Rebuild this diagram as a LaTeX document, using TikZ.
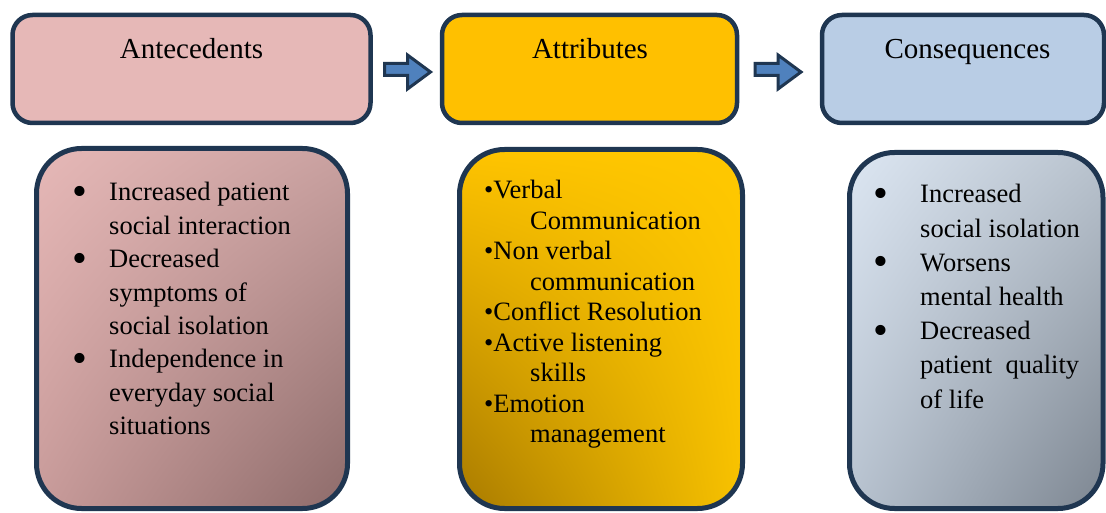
\documentclass[tikz,border=0pt]{standalone}
\usepackage{fontspec}
\usepackage{graphicx}
\setmainfont{Liberation Serif}
\usetikzlibrary{shadings}
\definecolor{navy}{HTML}{1F3651}
\definecolor{arrowfill}{HTML}{4F81BD}
\definecolor{anteTop}{HTML}{E6B8B7}
\definecolor{attrTop}{HTML}{FFC000}
\definecolor{consTop}{HTML}{B9CDE5}
\definecolor{anteUL}{HTML}{E6B8B7}
\definecolor{anteUR}{HTML}{C9A1A0}
\definecolor{anteLL}{HTML}{C89B9A}
\definecolor{anteLR}{HTML}{8D6B6A}
\definecolor{attrUL}{HTML}{FFC400}
\definecolor{attrUR}{HTML}{FFC800}
\definecolor{attrLL}{HTML}{A87A00}
\definecolor{attrLR}{HTML}{F8C200}
\definecolor{consUL}{HTML}{DCE6F2}
\definecolor{consUR}{HTML}{B9C3CE}
\definecolor{consLL}{HTML}{B7C2CF}
\definecolor{consLR}{HTML}{7D8691}
\newcommand{\bigbul}{\raisebox{-4.5pt}{\scalebox{1.6}{\textbullet}}}
\tikzset{
  headbox/.style={draw=navy, line width=4.5pt, rounded corners=20pt, minimum height=108pt, inner sep=0pt, outer sep=0pt},
  listbox/.style={draw=navy, line width=5pt, rounded corners=45pt, inner sep=0pt, outer sep=0pt},
  titletext/.style={anchor=base, inner sep=0pt, font=\fontsize{29}{34}\selectfont},
  listtext/.style={anchor=base west, inner sep=0pt},
  blockarrow/.pic={
    \draw[draw=navy, fill=arrowfill, line width=3pt, miter limit=10]
      (1.5,-6) -- (24.5,-6) -- (24.5,-14.5) -- (47.5,2.5) -- (24.5,19.5) -- (24.5,6) -- (1.5,6) -- cycle;
  }
}
\begin{document}
\begin{tikzpicture}[x=1pt,y=-1pt]
\path[use as bounding box, clip] (0,0) rectangle (1106,513);

% heading boxes
\node[headbox, fill=anteTop, minimum width=358pt] (anteHead) at (191.5,69) {};
\node[headbox, fill=attrTop, minimum width=295pt] (attrHead) at (589.5,69) {};
\node[headbox, fill=consTop, minimum width=282pt] (consHead) at (963,69) {};
\node[titletext] (anteTitle) at (191.5,59) {Antecedents};
\node[titletext] (attrTitle) at (590,59) {Attributes};
\node[titletext] (consTitle) at (967.5,59) {Consequences};

% block arrows
\pic at (383,69.5) {blockarrow};
\pic at (753.5,69.5) {blockarrow};

% list boxes
\node[listbox, minimum width=311pt, minimum height=360pt,
  upper left=anteUL, upper right=anteUR, lower left=anteLL, lower right=anteLR] (anteList) at (192,328.5) {};
\node[listbox, minimum width=283pt, minimum height=359pt,
  upper left=attrUL, upper right=attrUR, lower left=attrLL, lower right=attrLR] (attrList) at (601,329) {};
\node[listbox, minimum width=253.5pt, minimum height=356pt,
  upper left=consUL, upper right=consUR, lower left=consLL, lower right=consLR] (consList) at (976.25,330.5) {};

% list texts
\node[listtext, font=\fontsize{26.5}{33.4}\selectfont] (anteText) at (72,201) {%
\begin{tabular}[t]{@{}l@{}l@{}}
\makebox[37pt][l]{\bigbul} & Increased patient\\
 & social interaction\\
\makebox[37pt][l]{\bigbul} & Decreased\\
 & symptoms of\\
 & social isolation\\
\makebox[37pt][l]{\bigbul} & Independence in\\
 & everyday social\\
 & situations
\end{tabular}};

\node[listtext, font=\fontsize{26.5}{30.5}\selectfont] (attrText) at (484,199) {%
\begin{tabular}[t]{@{}l@{}}
\textbullet Verbal\\
\hspace*{46pt}Communication\\
\textbullet Non verbal\\
\hspace*{46pt}communication\\
\textbullet Conflict Resolution\\
\textbullet Active listening\\
\hspace*{46pt}skills\\
\textbullet Emotion\\
\hspace*{46pt}management
\end{tabular}};

\node[listtext, font=\fontsize{26.5}{34.2}\selectfont] (consText) at (873,203) {%
\begin{tabular}[t]{@{}l@{}l@{}}
\makebox[47pt][l]{\bigbul} & Increased\\
 & social isolation\\
\makebox[47pt][l]{\bigbul} & Worsens\\
 & mental health\\
\makebox[47pt][l]{\bigbul} & Decreased\\
 & patient\ \ quality\\
 & of life
\end{tabular}};
\end{tikzpicture}
\end{document}
